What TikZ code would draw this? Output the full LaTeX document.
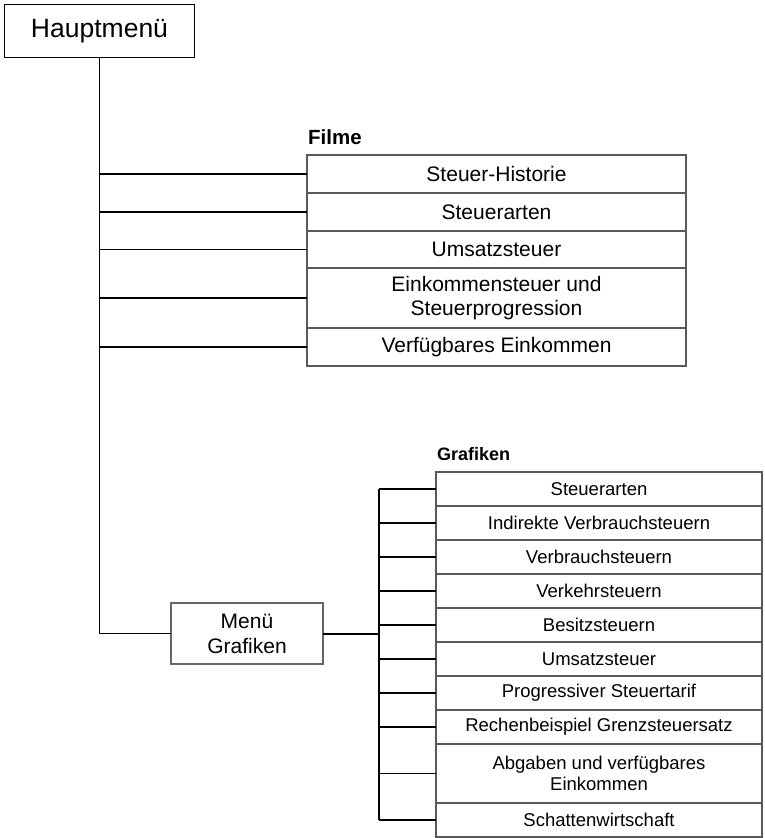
\documentclass[tikz,border=0pt]{standalone}
\usepackage{fontspec}
\setmainfont{Liberation Sans}
\usepackage{tikz}
\usetikzlibrary{positioning}
\tikzset{
menubox/.style = {draw=black!60, line width=1.1pt, inner sep=2pt, outer sep=0pt, align=center, font=\fontsize{21}{25}\selectfont},
filmrow/.style = {draw=black!65, line width=1.1pt, minimum width=379pt, minimum height=#1, inner sep=2pt, outer sep=0pt, align=center, font=\fontsize{21}{24}\selectfont},
filmrow/.default = 38pt % height of one row
}
\tikzset{
grafrow/.style = {draw=black!65, line width=1.1pt, minimum width=326pt, minimum height=#1, inner sep=2pt, outer sep=0pt, align=center, font=\fontsize{18.5}{21.7}\selectfont},
grafrow/.default = 34pt
}
\tikzset{title/.style={inner sep=0pt, font=\bfseries\fontsize{20.5}{24}\selectfont}}
\tikzset{link/.style={line width=1.2pt}}

\begin{document}
\begin{tikzpicture}[x=1pt, y=1pt]
    \useasboundingbox (0,0) rectangle (764,-838);
    % main menu
    \node [menubox, draw=black, line width=1.6pt, minimum width=190pt, minimum height=53pt, font=\fontsize{26.5}{30}\selectfont] (haupt) at (99.5,-31) {Hauptmenü};

    % films
    \node [title, anchor=base west] (filmtitle) at (308,-144) {Filme};
    \node [filmrow, anchor=north west] (f1) at (307,-155) {Steuer-Historie};
    \node [filmrow, below=0pt of f1] (f2) {Steuerarten};
    \node [filmrow=37pt, below=0pt of f2] (f3) {Umsatzsteuer};
    \node [filmrow=60pt, below=0pt of f3] (f4) {Einkommensteuer und\\Steuerprogression};
    \node [filmrow, below=0pt of f4] (f5) {Verfügbares Einkommen};

    % graphics menu
    \node [menubox, minimum width=152pt, minimum height=61pt] (mg) at (247,-633.5) {Menü\\Grafiken};
    \coordinate (bus) at (379,-633.5);

    \node [title, font=\bfseries\fontsize{18}{22}\selectfont, anchor=base west] (graftitle) at (437,-460.7) {Grafiken};
    \node [grafrow, anchor=north west] (g1) at (436,-472) {Steuerarten};
    \node [grafrow, below=0pt of g1] (g2) {Indirekte Verbrauchsteuern};
    \node [grafrow, below=0pt of g2] (g3) {Verbrauchsteuern};
    \node [grafrow, below=0pt of g3] (g4) {Verkehrsteuern};
    \node [grafrow, below=0pt of g4] (g5) {Besitzsteuern};
    \node [grafrow, below=0pt of g5] (g6) {Umsatzsteuer};
    \node [grafrow, below=0pt of g6] (g7) {Progressiver Steuertarif};
    \node [grafrow, below=0pt of g7] (g8) {Rechenbeispiel Grenzsteuersatz};
    \node [grafrow=59pt, below=0pt of g8] (g9) {Abgaben und verfügbares\\Einkommen};
    \node [grafrow, below=0pt of g9] (g10) {Schattenwirtschaft};

    % connectors
    \draw [link, line width=1.6pt] (haupt.south) -- (haupt.south |- mg.west) -- (mg.west);
    \draw [link] (haupt.south |- f1.west) -- (f1.west);
    \draw [link] (haupt.south |- f2.west) -- (f2.west);
    \draw [link] (haupt.south |- f3.west) -- (f3.west);
    \draw [link] (haupt.south |- f4.west) -- (f4.west);
    \draw [link] (haupt.south |- f5.west) -- (f5.west);

    \draw [link, line width=2pt] (mg.east) -- (bus);
    \draw [link] (bus |- g1.west) -- (bus |- g10.west);
    \draw [link] (bus |- g1.west) -- (g1.west);
    \draw [link] (bus |- g2.west) -- (g2.west);
    \draw [link] (bus |- g3.west) -- (g3.west);
    \draw [link] (bus |- g4.west) -- (g4.west);
    \draw [link] (bus |- g5.west) -- (g5.west);
    \draw [link] (bus |- g6.west) -- (g6.west);
    \draw [link] (bus |- g7.west) -- (g7.west);
    \draw [link] (bus |- g8.west) -- (g8.west);
    \draw [link] (bus |- g9.west) -- (g9.west);
    \draw [link] (bus |- g10.west) -- (g10.west);
\end{tikzpicture}
\end{document}
